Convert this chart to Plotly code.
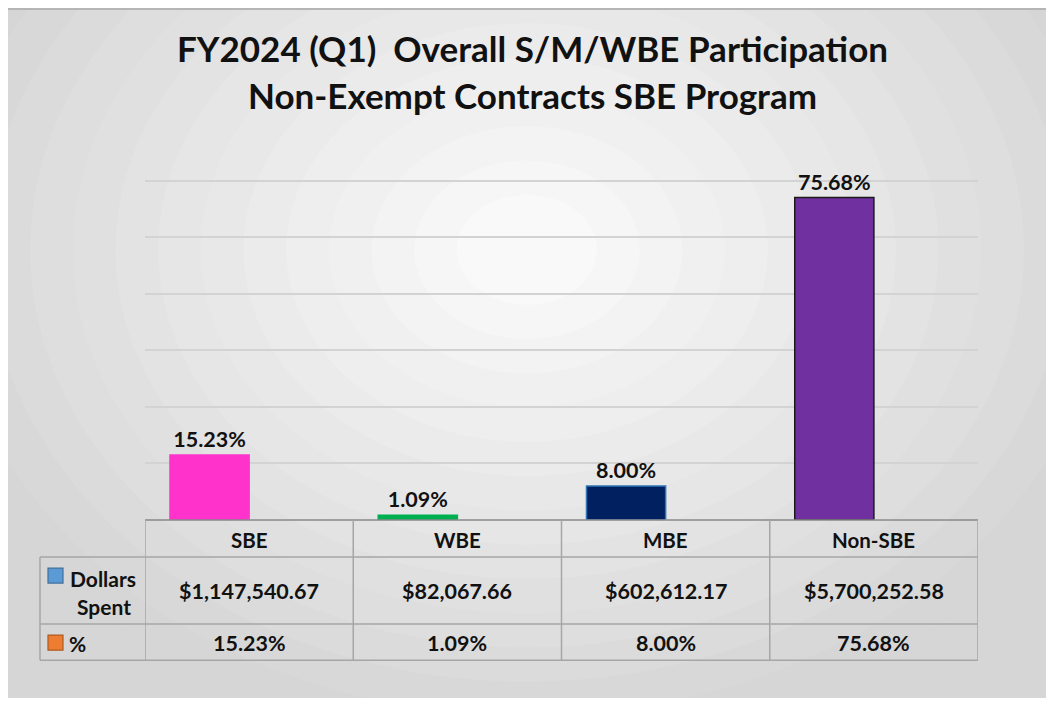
import plotly.graph_objects as go

categories = ["SBE", "WBE", "MBE", "Non-SBE"]
dollars = [1147540.67, 82067.66, 602612.17, 5700252.58]
percents = [15.23, 1.09, 8.00, 75.68]
dollar_labels = ["$1,147,540.67", "$82,067.66", "$602,612.17", "$5,700,252.58"]
pct_labels = ["15.23%", "1.09%", "8.00%", "75.68%"]
title_lines = ["FY2024 (Q1)  Overall S/M/WBE Participation",
               "Non-Exempt Contracts SBE Program"]
series_names = ["Dollars Spent", "%"]

bar_colors = ["#FF33CC", "#00B050", "#002060", "#7030A0"]
bar_lines = ["#FF33CC", "#00B050", "#2E75B6", "#1a1a1a"]

# page body has an 8px margin; work in reference-pixel coords and shift
OFF = 8
W, H = 1054 - 2 * OFF, 706 - 2 * OFF
YMAX = 6100000
# plot area in reference pixels (6M gridline lands at y=181)
L, R, B = 145, 978, 520
T = B - (B - 181) * YMAX / 6000000
FONT = "Lato"
TXT = "#111111"


def px(x):
    return (x - L) / (R - L)


def py(y):
    return (B - y) / (B - T)


fig = go.Figure()
fig.add_trace(go.Bar(
    x=categories, y=dollars, name=series_names[0],
    marker=dict(color=bar_colors, line=dict(color=bar_lines, width=1.5)),
    text=pct_labels, textposition="outside",
    textfont=dict(family=FONT, size=21.5, color=TXT, weight="bold"),
    cliponaxis=False, showlegend=False,
))
fig.add_trace(go.Bar(
    x=categories, y=percents, name=series_names[1],
    marker=dict(color="#ED7D31"), showlegend=False,
))

shapes = []
# radial-ish background gradient
n = 14
for i in range(n):
    f = i / (n - 1)
    g = int(214 + (249 - 214) * f)
    rx = 1250 * (1 - f) + 140 * f
    ry = 1000 * (1 - f) + 110 * f
    cx, cy = 527, 250
    shapes.append(dict(
        type="circle", xref="paper", yref="paper", layer="below",
        x0=px(cx - rx / 2), x1=px(cx + rx / 2),
        y0=py(cy + ry / 2), y1=py(cy - ry / 2),
        fillcolor=f"rgb({g},{g},{g})", line=dict(width=0),
    ))
# top border strip
shapes.append(dict(type="rect", xref="paper", yref="paper", layer="below",
                   x0=px(0), x1=px(1100), y0=py(OFF + 2.5), y1=py(OFF),
                   fillcolor="#b5b5b5", line=dict(width=0)))

tcol = "#a6a6a6"
# table lines
shapes.append(dict(type="line", xref="paper", yref="paper", x0=px(L), x1=px(R),
                   y0=py(520), y1=py(520), line=dict(color="#888888", width=1.5)))
for yy in [557, 624, 660]:
    shapes.append(dict(type="line", xref="paper", yref="paper", x0=px(40), x1=px(R),
                       y0=py(yy), y1=py(yy), line=dict(color=tcol, width=1.5)))
shapes.append(dict(type="line", xref="paper", yref="paper", x0=px(40), x1=px(40),
                   y0=py(557), y1=py(660), line=dict(color=tcol, width=1.5)))
for k in range(len(categories) + 1):
    shapes.append(dict(type="line", xref="x", yref="paper", x0=k - 0.5, x1=k - 0.5,
                       y0=py(520), y1=py(660), line=dict(color=tcol, width=1.5)))
# legend keys
shapes.append(dict(type="rect", xref="paper", yref="paper", x0=px(48), x1=px(63),
                   y0=py(583), y1=py(568), fillcolor="#5B9BD5",
                   line=dict(color="#41719C", width=1.2)))
shapes.append(dict(type="rect", xref="paper", yref="paper", x0=px(48), x1=px(63),
                   y0=py(650), y1=py(635), fillcolor="#ED7D31",
                   line=dict(color="#AE5A21", width=1.2)))


def note(text, x, y, size, xref="paper", xanchor="center"):
    return dict(text=f"<b>{text}</b>", xref=xref, yref="paper", x=x, y=py(y),
                showarrow=False, xanchor=xanchor, yanchor="middle",
                font=dict(family=FONT, size=size, color=TXT))


ann = []
for i, line in enumerate(title_lines):
    ann.append(note(line, px(532), [48, 95][i], 35))
for i, c in enumerate(categories):
    ann.append(note(c, i, 540, 20.5, xref="x"))
    ann.append(note(dollar_labels[i], i, 591, 21.5, xref="x"))
    ann.append(note(pct_labels[i], i, 643, 21.5, xref="x"))
ann.append(note("Dollars", px(103), 578, 21))
ann.append(note("Spent", px(104), 606, 21))
ann.append(note("%", px(67), 643, 21, xanchor="left"))

fig.update_layout(
    width=W, height=H,
    margin=dict(l=L - OFF, r=W - (R - OFF), t=T - OFF, b=H - (B - OFF), pad=0),
    paper_bgcolor="#d6d6d6", plot_bgcolor="rgba(0,0,0,0)",
    barmode="group", bargap=0.24, bargroupgap=0,
    shapes=shapes, annotations=ann,
    xaxis=dict(range=[-0.5, 3.5], showticklabels=False, showgrid=False,
               zeroline=False, showline=False),
    yaxis=dict(range=[0, YMAX], tick0=0, dtick=1000000, showticklabels=False,
               showgrid=True, gridcolor="#d3d3d3", gridwidth=1.5,
               zeroline=False, showline=False),
    font=dict(family=FONT),
)

fig.write_html("out.html")
